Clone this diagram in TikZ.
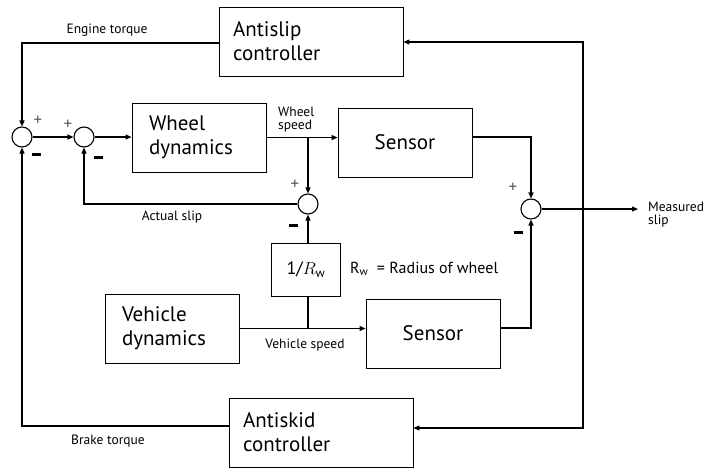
\documentclass[tikz,border=0pt]{standalone}
\usepackage{fontspec}
\setmainfont{PT Sans}
\usetikzlibrary{arrows.meta,calc}
\tikzset{
  blk/.style={draw, line width=0.9pt, minimum width=134pt, minimum height=69pt, inner sep=0pt, font=\fontsize{21}{24}\selectfont},
  blkl/.style={blk, text width=#1, align=left},
  sumc/.style={draw, circle, line width=1.1pt, minimum size=20pt, inner sep=0pt},
  conn/.style={line width=1.2pt},
  arr/.style={conn, -{Triangle[length=6pt,width=5pt]}},
  lbl/.style={font=\fontsize{13.5}{14}\selectfont, inner sep=0pt},
  plus/.style={font=\fontsize{17}{17}\selectfont, text=black!65, inner sep=0pt},
  minus/.style={fill=black, minimum width=9pt, minimum height=3pt, inner sep=0pt},
}
\begin{document}
\begin{tikzpicture}[x=1pt,y=-1pt]
\path[use as bounding box, fill=white] (0,0) rectangle (707,469);

% blocks
\node[blkl=156pt, minimum width=184pt] (antislip) at (311,41.5) {Antislip\\controller};
\node[blkl=100pt] (wheel) at (199,137.5) {Wheel\\dynamics};
\node[blk] (sensA) at (405,142.5) {Sensor};
\node[blk, minimum width=69pt, minimum height=53pt, font=\fontsize{18}{20}\selectfont] (rw) at (306,269.5) {1/$R_{\mathrm{w}}$};
\node[blkl=100pt] (vehicle) at (172,328.5) {Vehicle\\dynamics};
\node[blk] (sensB) at (433,333.5) {Sensor};
\node[blkl=156pt, minimum width=184pt] (antiskid) at (321,432.5) {Antiskid\\controller};

% summing junctions
\node[sumc] (s1) at (22,137) {};
\node[sumc] (s2) at (84,137) {};
\node[sumc] (s3) at (308,204) {};
\node[sumc] (s4) at (531,209) {};

% signs
\node[plus] (p1) at (38,121) {+};
\node[minus] (m1) at (36,154.5) {};
\node[plus] (p2) at (68,125) {+};
\node[minus] (m2) at (98,157) {};
\node[plus] (p3) at (295,185) {+};
\node[minus] (m3) at (293,225) {};
\node[plus] (p4) at (513,188) {+};
\node[minus] (m4) at (518,232) {};

% coordinates
\coordinate (ws) at (308,137);
\coordinate (vs) at (308,328);
\coordinate (fb) at (583,209);
\coordinate (out) at (638,209);

% connectors
\draw[arr] (antislip.west |- 0,43) -| (s1.north);
\draw[arr] (antiskid.west |- 0,426) -| (s1.south);
\draw[arr] (s1.east) -- (s2.west);
\draw[arr] (s2.east) -- (wheel.west |- s2);
\draw[arr] (wheel.east) -- (sensA.west |- wheel.east);
\draw[arr] (ws) -- (s3.north);
\draw[arr] (s3.west) -| (s2.south);
\draw[arr] (rw.north -| s3) -- (s3.south);
\draw[conn] (rw.south -| s3) -- (vs);
\draw[arr] (vehicle.east) -- (sensB.west |- vehicle.east);
\draw[arr] (sensA.east |- ws) -| (s4.north);
\draw[arr] (sensB.east |- vs) -| (s4.south);
\draw[arr] (s4.east) -- (out);
\draw[arr] (fb) |- (antislip.east |- 0,42);
\draw[arr] (fb) |- (antiskid.east |- 0,428);

% labels
\node[lbl] (l1) at (107,30) {Engine torque};
\node[lbl, align=left, anchor=west, font=\fontsize{13.5}{13}\selectfont] (l2) at (278,120) {Wheel\\speed};
\node[lbl] (l3) at (172,217) {Actual slip};
\node[lbl] (l4) at (305,345) {Vehicle speed};
\node[lbl] (l5) at (108,441) {Brake torque};
\node[lbl, align=left, anchor=west, font=\fontsize{13.5}{13}\selectfont] (l6) at (648,215) {Measured\\slip};
\node[lbl, font=\fontsize{16}{18}\selectfont, anchor=west] (l7) at (350,269) {R\textsubscript{w}\ \ = Radius of wheel};
\end{tikzpicture}
\end{document}
